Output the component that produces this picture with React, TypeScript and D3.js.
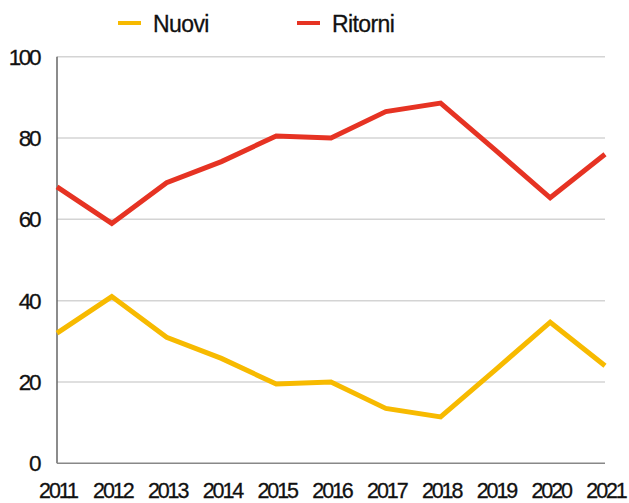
import React from "react";
import * as d3 from "d3";

const years = [2011, 2012, 2013, 2014, 2015, 2016, 2017, 2018, 2019, 2020, 2021];
const nuovi = [32, 41, 31, 25.8, 19.5, 20, 13.5, 11.4, 23, 34.7, 24];
const ritorni = [68, 59, 69, 74.2, 80.5, 80, 86.5, 88.6, 77, 65.3, 76];
const yTicks = [0, 20, 40, 60, 80, 100];
const seriesNames = ["Nuovi", "Ritorni"];
const colors = ["#f7ba00", "#e63323"];

export default function App() {
  const W = 629, H = 503;
  const x = d3.scaleLinear().domain([2011, 2021]).range([57, 605]);
  const y = d3.scaleLinear().domain([0, 100]).range([463.3, 56.7]);
  const line = d3.line<[number, number]>().x(d => x(d[0])).y(d => y(d[1]));
  const series = [nuovi, ritorni];
  const font = "'Liberation Sans', Arial, sans-serif";
  return (
    <svg width={W} height={H} style={{ position: "absolute", left: 0, top: 0, background: "#fff" }}>
      {yTicks.filter(t => t > 0).map(t => (
        <line key={t} x1={57} x2={605} y1={y(t)} y2={y(t)} stroke="#d4d4d4" strokeWidth={1.5} />
      ))}
      <line x1={57} x2={57} y1={y(100)} y2={y(0)} stroke="#666" strokeWidth={1.5} />
      <line x1={57} x2={605} y1={y(0)} y2={y(0)} stroke="#888" strokeWidth={1.5} />
      {yTicks.map(t => (
        <text key={t} x={39} y={y(t)} dy="0.36em" textAnchor="end" fontFamily={font} fontSize={22.5} letterSpacing={-2.4} fill="#111" stroke="#111" strokeWidth={0.3}>{t}</text>
      ))}
      {years.map(yr => (
        <text key={yr} x={x(yr) + 1} y={498} textAnchor="middle" fontFamily={font} fontSize={21.5} letterSpacing={-2.1} fill="#111" stroke="#111" strokeWidth={0.3}>{yr}</text>
      ))}
      {series.map((s, i) => (
        <path key={i} d={line(years.map((yr, j) => [yr, s[j]] as [number, number])) || ""} fill="none" stroke={colors[i]} strokeWidth={5} strokeLinejoin="miter" />
      ))}
      {seriesNames.map((n, i) => {
        const lx = i === 0 ? 118 : 297;
        return (
          <g key={n}>
            <line x1={lx} x2={lx + 23} y1={23} y2={23} stroke={colors[i]} strokeWidth={4} />
            <text x={lx + 35} y={32} fontFamily={font} fontSize={23} letterSpacing={-0.6} fill="#111" stroke="#111" strokeWidth={0.3}>{n}</text>
          </g>
        );
      })}
    </svg>
  );
}
